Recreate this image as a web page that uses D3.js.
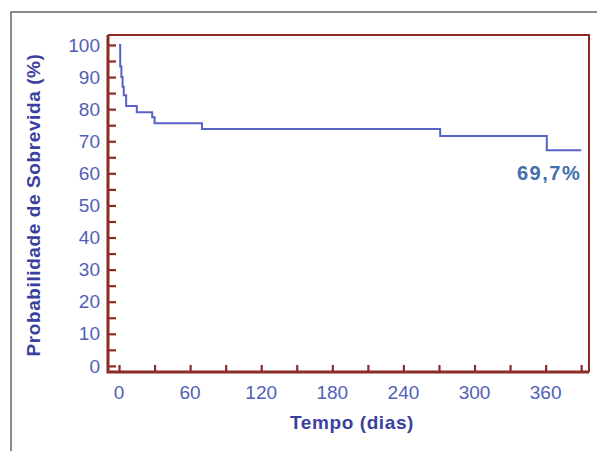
<!DOCTYPE html>
<html>
<head>
<meta charset="utf-8">
<script src="https://cdn.jsdelivr.net/npm/d3@7"></script>
<style>
  body { margin: 0; background: #fff; }
  svg { display: block; font-family: "Liberation Sans", Arial, sans-serif; }
</style>
</head>
<body>
<svg id="chart"></svg>
<script>
// Kaplan-Meier steps
const stepTimes = [0, 1, 2, 3, 4, 6, 15, 28, 30, 70, 271, 361];
const stepSurvival = [100, 93.3, 90, 87, 84.3, 81, 79, 77.5, 75.6, 73.8, 71.6, 67.2];
const endTime = 390;
const xTicks = [0, 60, 120, 180, 240, 300, 360];
const yTicks = [0, 10, 20, 30, 40, 50, 60, 70, 80, 90, 100];
const finalLabel = "69,7%";

const width = 597;
const height = 451;
const plotLeft = 108, plotRight = 589, plotTop = 35, plotBottom = 372;

const red = "#8e2a22";
const tickBlue = "#5060b8";
const titleBlue = "#3b3f9e";

const svg = d3.select("#chart")
    .attr("width", width)
    .attr("height", height);

// outer gray box
svg.append("rect")
    .attr("x", 11).attr("y", 12)
    .attr("width", 700).attr("height", 600)
    .attr("fill", "none")
    .attr("stroke", "#666")
    .attr("stroke-width", 1.5);

const x = d3.scaleLinear().domain([-9.3, 396.6]).range([plotLeft, plotRight]);
const y = d3.scaleLinear().domain([-1.9, 103.1]).range([plotBottom, plotTop]);

// frame top and right
svg.append("path")
    .attr("d", `M${plotLeft},${plotTop}H${plotRight}V${plotBottom}`)
    .attr("fill", "none")
    .attr("stroke", red)
    .attr("stroke-width", 2);

// y axis
const yAxis = svg.append("g")
    .attr("transform", `translate(${plotLeft},0)`)
    .call(d3.axisRight(y).tickValues(d3.range(0, 101, 5)).tickSize(8).tickFormat(""));
yAxis.select(".domain").remove();
yAxis.selectAll("line").attr("stroke", red).attr("stroke-width", 2.2);

svg.append("g").selectAll("text")
    .data(yTicks)
    .enter()
    .append("text")
    .attr("x", plotLeft - 8)
    .attr("y", d => y(d))
    .attr("dy", "0.35em")
    .attr("text-anchor", "end")
    .attr("fill", tickBlue)
    .attr("font-size", 19)
    .text(d => d);

// x axis
const xAxis = svg.append("g")
    .attr("transform", `translate(0,${plotBottom})`)
    .call(d3.axisTop(x).tickValues(d3.range(0, 391, 30)).tickSize(7).tickFormat(""));
xAxis.select(".domain").remove();
xAxis.selectAll("line").attr("stroke", red).attr("stroke-width", 2.2);

svg.append("g").selectAll("text")
    .data(xTicks)
    .enter()
    .append("text")
    .attr("x", d => x(d))
    .attr("y", 399)
    .attr("text-anchor", "middle")
    .attr("fill", tickBlue)
    .attr("font-size", 19)
    .text(d => d);

// axis lines
svg.append("path")
    .attr("d", `M${plotLeft},${plotTop}V${plotBottom}H${plotRight}`)
    .attr("fill", "none")
    .attr("stroke", red)
    .attr("stroke-width", 3);

// survival curve
const pts = stepTimes.map((t, i) => [t, stepSurvival[i]]);
pts.push([endTime, stepSurvival[stepSurvival.length - 1]]);
const line = d3.line()
    .x(d => x(d[0]))
    .y(d => y(d[1]))
    .curve(d3.curveStepAfter);

svg.append("path")
    .datum(pts)
    .attr("d", line)
    .attr("fill", "none")
    .attr("stroke", "#5862c6")
    .attr("stroke-width", 2);

svg.append("text")
    .attr("x", x(endTime))
    .attr("y", 180)
    .attr("text-anchor", "end")
    .attr("fill", "#3f6fae")
    .attr("font-weight", "bold")
    .attr("font-size", 20)
    .attr("letter-spacing", 1.5)
    .text(finalLabel);

// titles
svg.append("text")
    .attr("x", 352)
    .attr("y", 429)
    .attr("text-anchor", "middle")
    .attr("fill", titleBlue)
    .attr("font-weight", "bold")
    .attr("font-size", 19)
    .attr("letter-spacing", 0.6)
    .text("Tempo (dias)");

svg.append("text")
    .attr("transform", "translate(40,205) rotate(-90)")
    .attr("text-anchor", "middle")
    .attr("fill", titleBlue)
    .attr("font-weight", "bold")
    .attr("font-size", 19)
    .attr("letter-spacing", 0.6)
    .text("Probabilidade de Sobrevida (%)");
</script>
</body>
</html>
